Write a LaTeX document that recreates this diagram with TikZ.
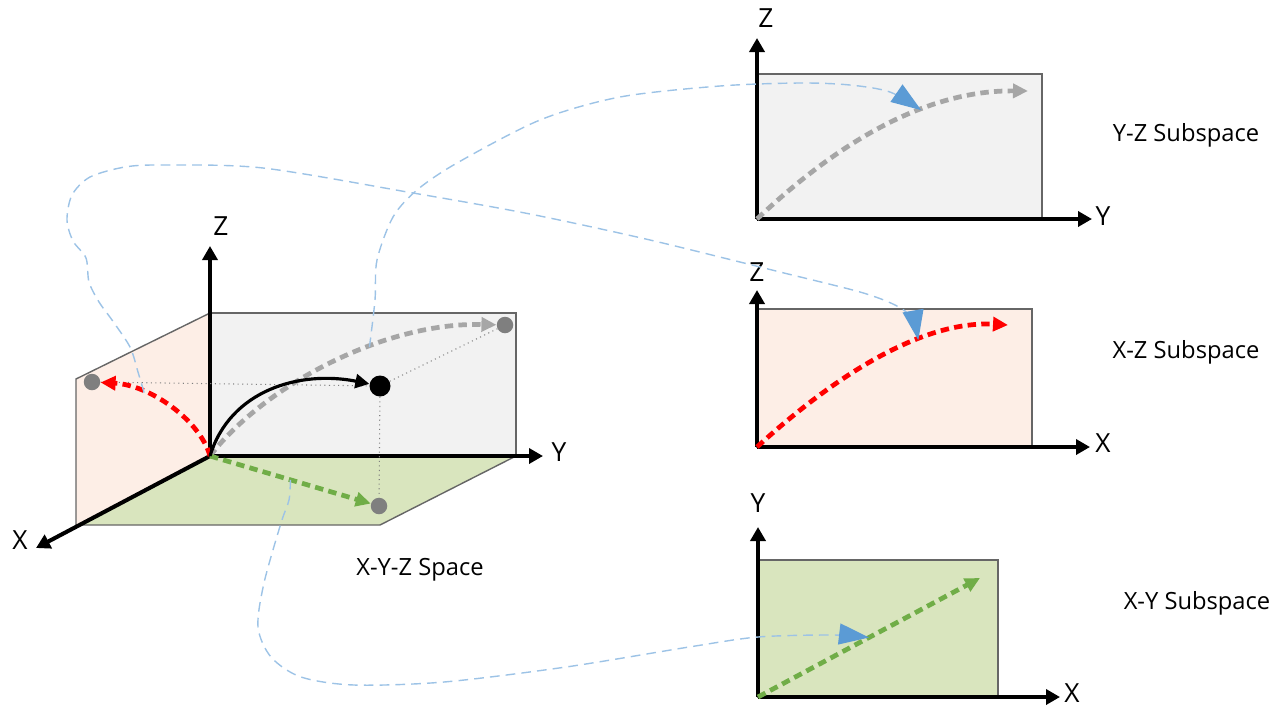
\documentclass[tikz,border=0pt]{standalone}
\usepackage{fontspec}
\setmainfont{Open Sans}
\usetikzlibrary{arrows.meta}
\definecolor{linkblue}{HTML}{9DC3E6}
\definecolor{tipblue}{HTML}{5B9BD5}
\definecolor{tracegray}{HTML}{A6A6A6}
\definecolor{tracegreen}{HTML}{70AD47}
\definecolor{dotgray}{HTML}{7F7F7F}
\definecolor{yzfill}{HTML}{F2F2F2}
\definecolor{xzfill}{HTML}{FDEEE6}
\definecolor{xyfill}{HTML}{D9E5BE}

\begin{document}
\begin{tikzpicture}[x=0.02cm,y=-0.02cm,
	every node/.style={inner sep=0pt},
	axis/.style={line width=2.3pt,-{Triangle[length=2.8mm,width=3mm]}},
	axlabel/.style={font=\fontsize{15}{17}\selectfont},
	caption/.style={font=\fontsize{13.5}{15}\selectfont},
	wall/.style={draw=black!60,line width=0.8pt},
	trace/.style={line width=2.7pt,dash pattern=on 4.8pt off 3pt,-{Triangle[length=3mm,width=2.8mm]}},
	guide/.style={dotted,dotgray,line width=0.6pt},
	link/.style={linkblue,line width=0.8pt,dash pattern=on 5.5pt off 3.5pt,-{Triangle[length=6mm,width=4.2mm,color=tipblue]}},
	dot/.style={circle,fill=dotgray,minimum size=3.3mm}]
\useasboundingbox (0,0) rectangle (1274,707);

% X-Y-Z space
\coordinate (O) at (210,456);
\coordinate (xtip) at (36,548);
\coordinate (ytip) at (543,456);
\coordinate (ztip) at (210,246);
\filldraw[wall,fill=yzfill] (211,313) rectangle (516,456);
\filldraw[wall,fill=xzfill] (O) -- (210,313) -- (76,379) -- (76,527) -- cycle;
\filldraw[wall,fill=xyfill] (O) -- (516,456) -- (380,525) -- (80,525) -- cycle;
\draw[axis] (O) -- (xtip);
\draw[axis] (O) -- (ytip);
\draw[axis] (O) -- (ztip);
\node[axlabel] (xlab) at (20,540) {X};
\node[axlabel] (ylab) at (559,452) {Y};
\node[axlabel] (zlab) at (221,226) {Z};

\node[dot] (pxz) at (92,382) {};
\node[dot,fill=black,minimum size=4.2mm] (pxyz) at (380,386) {};
\node[dot] (pyz) at (505,325) {};
\node[dot] (pxy) at (379,506) {};
\draw[guide] (pxz) -- (pxyz);
\draw[guide] (pxyz) -- (pyz);
\draw[guide] (pxyz) -- (pxy);

\draw[trace,tracegray] (O) .. controls (260,390) and (380,322) .. (pyz) coordinate[pos=0.63] (syz);
\draw[trace,red] (O) .. controls (200,420) and (150,385) .. (pxz) coordinate[pos=0.7] (sxz);
\draw[trace,tracegreen] (O) -- (pxy) coordinate[pos=0.5] (sxy);
\draw[line width=1.8pt,-{Triangle[length=2.8mm,width=2.8mm]}] (O) .. controls (230,390) and (300,370) .. (pxyz);
\node[caption] (xyzcap) at (420,570) {X-Y-Z Space};

% Y-Z subspace
\coordinate (yzO) at (757,219);
\coordinate (yzz) at (757,38);
\coordinate (yzy) at (1092,219);
\filldraw[wall,fill=yzfill] (yzO) rectangle (1042,74);
\draw[axis] (yzO) -- (yzz);
\draw[axis] (yzO) -- (yzy);
\node[axlabel] (yzzlab) at (766,18) {Z};
\node[axlabel] (yzylab) at (1103,216) {Y};
\draw[trace,tracegray] (yzO) .. controls (830,150) and (920,90) .. (1028,91) coordinate[pos=0.65] (tyz);
\node[caption] (yzcap) at (1186,135) {Y-Z Subspace};

% X-Z subspace
\coordinate (xzO) at (757,447);
\coordinate (xzz) at (757,290);
\coordinate (xzx) at (1090,447);
\filldraw[wall,fill=xzfill] (xzO) rectangle (1032,309);
\draw[axis] (xzO) -- (xzz);
\draw[axis] (xzO) -- (xzx);
\node[axlabel] (xzzlab) at (757,272) {Z};
\node[axlabel] (xzxlab) at (1103,443) {X};
\draw[trace,red] (xzO) .. controls (830,380) and (920,320) .. (1008,325) coordinate[pos=0.66] (txz);
\node[caption] (xzcap) at (1186,352) {X-Z Subspace};

% X-Y subspace
\coordinate (xyO) at (758,697);
\coordinate (xyy) at (758,527);
\coordinate (xyx) at (1060,697);
\filldraw[wall,fill=xyfill] (xyO) rectangle (998,560);
\draw[axis] (xyO) -- (xyy);
\draw[axis] (xyO) -- (xyx);
\node[axlabel] (xyylab) at (758,503) {Y};
\node[axlabel] (xyxlab) at (1072,693) {X};
\draw[trace,tracegreen] (xyO) -- (980,578) coordinate[pos=0.5] (txy);
\node[caption] (xycap) at (1197,603) {X-Y Subspace};

% projections
\draw[link] plot[smooth] coordinates {(syz) (375,300) (377,260) (393,217) (417,190) (457,163) (540,120) (620,97) (720,86) (800,83) (850,85) (890,92) (tyz)};
\draw[link] plot[smooth] coordinates {(sxz) (138,372) (130,347) (112,320) (99,302) (89,282) (86,258) (73,241) (67,220) (72,195) (90,177) (125,167) (163,165) (263,168) (413,193) (530,214) (650,240) (780,272) (860,292) (895,305) (912,318) (txz)};
\draw[link] plot[smooth] coordinates {(sxy) (289,500) (281,523) (264,583) (258,627) (271,657) (301,677) (354,685) (444,682) (566,667) (689,647) (758,637) (833,635) (txy)};
\end{tikzpicture}
\end{document}
